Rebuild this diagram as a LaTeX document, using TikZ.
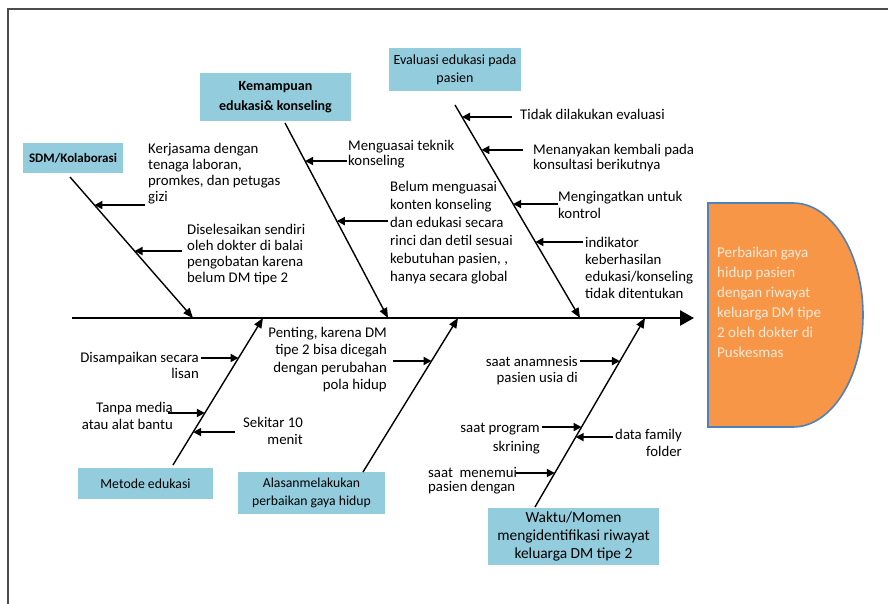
\documentclass[tikz,border=0pt]{standalone}
\usepackage{fontspec}
\setmainfont{Carlito}
\usetikzlibrary{arrows.meta,calc}
\definecolor{boxblue}{RGB}{147,205,221}
\definecolor{heador}{RGB}{247,150,70}
\definecolor{headbd}{RGB}{79,129,189}
\definecolor{headtx}{RGB}{253,234,218}
\begin{document}
\begin{tikzpicture}[x=1pt,y=-1pt,
  frame/.style={draw=black!70,line width=2.2pt},
  cat/.style={fill=boxblue,draw=none,inner sep=0pt,align=center,text=black},
  lbl/.style={font=\fontsize{14.8}{#1}\selectfont,inner sep=0pt,align=left,text=black},
  lbl/.default=16,
  lblr/.style={lbl=#1,align=right},
  lblr/.default=16,
  bone/.style={line width=1.4pt,-{Triangle[length=10pt,width=8pt]}},
  spine/.style={line width=2.6pt,-{Triangle[length=14pt,width=15pt]}},
  sub/.style={line width=1.9pt,-{Triangle[length=8pt,width=8pt]}}]
\useasboundingbox (0,0) rectangle (888,604);
% frame
\draw[frame] (8,604) -- (8,9) -- (888,9);

% category boxes
\node[cat,minimum width=100pt,minimum height=30pt,font=\bfseries\fontsize{13}{16}\selectfont] (c1) at (73,158) {SDM/Kolaborasi};
\node[cat,minimum width=151pt,minimum height=48pt,font=\bfseries\fontsize{14}{20}\selectfont] (c2) at (275.5,97) {Kemampuan\\edukasi\& konseling};
\node[cat,minimum width=132pt,minimum height=43pt,font=\fontsize{14}{18}\selectfont] (c3) at (455,69.5) {Evaluasi edukasi pada\\pasien};
\node[cat,minimum width=135pt,minimum height=31pt,font=\fontsize{13.8}{16}\selectfont] (c4) at (145.5,483.5) {Metode edukasi};
\node[cat,minimum width=147pt,minimum height=42pt,font=\fontsize{13.7}{18}\selectfont] (c5) at (311.5,493) {Alasanmelakukan\\perbaikan gaya hidup};
\node[cat,minimum width=171pt,minimum height=57pt,font=\fontsize{15.4}{18}\selectfont] (c6) at (573.5,536.5) {Waktu/Momen\\mengidentifikasi riwayat\\keluarga DM tipe 2};

% head
\path[fill=heador,draw=headbd,line width=1.6pt] (708,203) -- (793,203)
  arc[start angle=-90,end angle=90,x radius=70,y radius=112] -- (708,427) -- cycle;
\node[anchor=base west,inner sep=0pt,align=left,text=headtx,font=\fontsize{15}{20}\selectfont] (head) at (717,357)
  {Perbaikan gaya\\hidup pasien\\dengan riwayat\\keluarga DM tipe\\2 oleh dokter di\\Puskesmas};

% spine
\coordinate (sp0) at (72,318);
\coordinate (sp1) at (694,318);
\draw[spine] (sp0) -- (sp1);

% bones
\coordinate (b1s) at (70,177);  \coordinate (b1e) at (193,318);
\coordinate (b2s) at (285,123); \coordinate (b2e) at (388,318);
\coordinate (b3s) at (455,105); \coordinate (b3e) at (580,318);
\coordinate (b4s) at (173,465); \coordinate (b4e) at (263,318);
\coordinate (b5s) at (363,472); \coordinate (b5e) at (458,318);
\coordinate (b6s) at (535,507); \coordinate (b6e) at (645,318);
\foreach \i in {1,...,6} {\draw[bone] (b\i s) -- (b\i e);}

% points on bones
\coordinate (a1) at ($(b1s)!0.199!(b1e)$);
\coordinate (a2) at ($(b1s)!0.525!(b1e)$);
\coordinate (a3) at ($(b2s)!0.195!(b2e)$);
\coordinate (a4) at ($(b2s)!0.503!(b2e)$);
\coordinate (a5) at ($(b3s)!0.056!(b3e)$);
\coordinate (a6) at ($(b3s)!0.211!(b3e)$);
\coordinate (a7) at ($(b3s)!0.465!(b3e)$);
\coordinate (a8) at ($(b3s)!0.643!(b3e)$);
\coordinate (a9) at ($(b4s)!0.728!(b4e)$);
\coordinate (a10) at ($(b4s)!0.354!(b4e)$);
\coordinate (a11) at ($(b4s)!0.224!(b4e)$);
\coordinate (a12) at ($(b5s)!0.721!(b5e)$);
\coordinate (a13) at ($(b6s)!0.772!(b6e)$);
\coordinate (a14) at ($(b6s)!0.423!(b6e)$);
\coordinate (a15) at ($(b6s)!0.370!(b6e)$);
\coordinate (a16) at ($(b6s)!0.180!(b6e)$);

% labels (anchored at the baseline of the last line)
\node[lbl,anchor=base west] (t1) at (148,201) {Kerjasama dengan\\tenaga laboran,\\promkes, dan petugas\\gizi};
\node[lbl,anchor=base west] (t2) at (187,282) {Diselesaikan sendiri\\oleh dokter di balai\\pengobatan karena\\belum DM tipe 2};
\node[lbl=15,anchor=base west] (t3) at (348,166) {Menguasai teknik\\konseling};
\node[lbl=18,anchor=base west] (t4) at (390,281) {Belum menguasai\\konten konseling\\dan edukasi secara\\rinci dan detil sesuai\\kebutuhan pasien, ,\\hanya secara global};
\node[lbl,anchor=base west] (t5) at (520,120) {Tidak dilakukan evaluasi};
\node[lbl=15,anchor=base west] (t6) at (533,170) {Menanyakan kembali pada\\konsultasi berikutnya};
\node[lbl=17,anchor=base west] (t7) at (558,218) {Mengingatkan untuk\\kontrol};
\node[lbl=17,anchor=base west] (t8) at (585,298) {indikator\\keberhasilan\\edukasi/konseling\\tidak ditentukan};
\node[lblr,anchor=base east] (t9) at (199,378) {Disampaikan secara\\lisan};
\node[lblr=17,anchor=base east] (t10) at (173,429) {Tanpa media\\atau alat bantu};
\node[lblr=17,anchor=base east] (t11) at (303,444) {Sekitar 10\\menit};
\node[lblr=17.5,anchor=base east] (t12) at (387,389.5) {Penting, karena DM\\tipe 2 bisa dicegah\\dengan perubahan\\pola hidup};
\node[lblr,anchor=base east] (t13) at (578,382) {saat anamnesis\\pasien usia di};
\node[lblr=19,anchor=base east] (t14) at (540,451) {saat program\\skrining};
\node[lblr=17,anchor=base east] (t15) at (682,456) {data family\\folder};
\node[lbl=14,anchor=base west] (t16) at (428,491) {saat\ \ menemui\\pasien dengan};

% sub arrows
\draw[sub] ([xshift=-3pt]t1.west |- a1) -- (a1);
\draw[sub] ([xshift=-5pt]t2.west |- a2) -- (a2);
\draw[sub] ([xshift=-1pt]t3.west |- a3) -- (a3);
\draw[sub] ([xshift=-2pt]t4.west |- a4) -- (a4);
\draw[sub] ([xshift=-8pt]t5.west |- a5) -- (a5);
\draw[sub] ([xshift=-10pt]t6.west |- a6) -- (a6);
\draw[sub] (t7.west |- a7) -- (a7);
\draw[sub] ([xshift=-2pt]t8.west |- a8) -- (a8);
\draw[sub] ([xshift=2pt]t9.east |- a9) -- (a9);
\draw[sub] ([xshift=-5pt]t10.east |- a10) -- (a10);
\draw[sub] ([xshift=-8pt]t11.west |- a11) -- (a11);
\draw[sub] ([xshift=6pt]t12.east |- a12) -- (a12);
\draw[sub] ([xshift=2pt]t13.east |- a13) -- (a13);
\draw[sub] ([xshift=2pt]t14.east |- a14) -- (a14);
\draw[sub] ([xshift=-2pt]t15.west |- a15) -- (a15);
\draw[sub] ([xshift=-1pt]t16.east |- a16) -- (a16);
\end{tikzpicture}
\end{document}
